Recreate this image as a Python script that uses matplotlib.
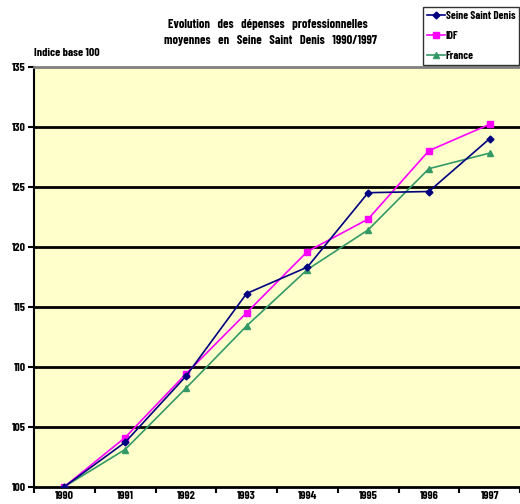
import matplotlib
matplotlib.use("Agg")
import matplotlib.pyplot as plt

years = ["1990", "1991", "1992", "1993", "1994", "1995", "1996", "1997"]
seine_saint_denis = [100.0, 103.7, 109.2, 116.1, 118.3, 124.5, 124.6, 129.0]
idf = [100.0, 104.1, 109.4, 114.5, 119.6, 122.3, 128.0, 130.2]
france = [100.0, 103.1, 108.2, 113.4, 118.1, 121.4, 126.5, 127.8]
yticks = [100, 105, 110, 115, 120, 125, 130, 135]

plt.rcParams['font.family'] = ['Barlow Condensed', 'DejaVu Sans']
plt.rcParams['font.weight'] = 'bold'

fig = plt.figure(figsize=(5.2, 5.04), dpi=100)
ax = fig.add_axes([34/520, 17.3/504, 486/520, 420/504])
ax.set_facecolor('#FFFFCC')

x = list(range(len(years)))
ax.plot(x, seine_saint_denis, color='#000080', marker='D', markersize=3.5, lw=1.2, label='Seine Saint Denis', zorder=5)
ax.plot(x, idf, color='#FF00FF', marker='s', markersize=4.5, lw=1.2, label='IDF', zorder=4)
ax.plot(x, france, color='#339966', marker='^', markersize=4.5, lw=1.2, label='France', zorder=3)

ax.set_xlim(-0.5, 7.5)
ax.set_ylim(100, 135)
ax.set_yticks(yticks)
ax.set_yticklabels([str(v) for v in yticks], fontsize=8.5, fontweight='bold')
for v in yticks[1:-1]:
    ax.axhline(v, color='black', lw=2, zorder=1)

ax.set_xticks(x)
ax.set_xticklabels(years, fontsize=8.5, fontweight='bold')
ax.tick_params(axis='x', length=0, pad=3)
ax.set_xticks([i - 0.5 for i in range(len(years) + 1)], minor=True)
ax.tick_params(axis='x', which='minor', length=4, width=1.5, direction='out')
ax.tick_params(axis='y', length=4, width=1.5, direction='out', pad=2)

ax.spines['left'].set_linewidth(1.5)
ax.spines['bottom'].set_linewidth(2)
ax.spines['top'].set_color('#808080')
ax.spines['top'].set_linewidth(2)
ax.spines['right'].set_visible(False)

fig.text(268/520, 1 - 25/504, "Evolution   des   dépenses   professionnelles", ha='center', va='center', fontsize=9, fontweight='bold')
fig.text(270/520, 1 - 41/504, "moyennes   en   Seine   Saint   Denis   1990/1997", ha='center', va='center', fontsize=9, fontweight='bold')
fig.text(34/520, 1 - 53/504, "Indice base 100", ha='left', va='center', fontsize=8.5, fontweight='bold')

leg = fig.legend(loc='upper left', bbox_to_anchor=(423/520, 1 - 7/504), frameon=True, fancybox=False,
                 edgecolor='black', fontsize=8, handlelength=1.6, handletextpad=0.1,
                 borderpad=0.35, labelspacing=0.9, borderaxespad=0)
leg.get_frame().set_linewidth(1)

fig.savefig('out.png', dpi=100, facecolor='white')
